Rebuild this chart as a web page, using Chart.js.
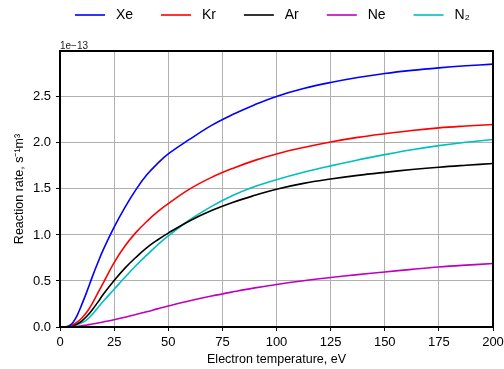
<!DOCTYPE html>
<html>
<head>
<meta charset="utf-8">
<script src="https://cdn.jsdelivr.net/npm/chart.js@4/dist/chart.umd.min.js"></script>
<style>
  html, body { margin: 0; padding: 0; background: #fff; }
  #wrap { width: 504px; height: 369px; }
</style>
</head>
<body>
<div id="wrap"><canvas id="rateChart" width="504" height="369"></canvas></div>
<script>
/* ===== data (rates in units of 1e-13 s^-1 m^3) ===== */
const temperature = [0, 2, 4, 6, 8, 10, 12.5, 15, 17.5, 20, 25, 30, 35, 40, 45, 50, 60, 70, 80, 90, 100, 112.5, 125, 137.5, 150, 162.5, 175, 187.5, 200];

const rateXe = [0, 0, 0.01, 0.05, 0.13, 0.24, 0.39, 0.55, 0.70, 0.84, 1.085, 1.30, 1.49, 1.65, 1.775, 1.88, 2.04, 2.19, 2.31, 2.415, 2.505, 2.59, 2.656, 2.71, 2.754, 2.788, 2.815, 2.837, 2.855];
const rateKr = [0, 0, 0.005, 0.025, 0.055, 0.095, 0.165, 0.26, 0.37, 0.48, 0.70, 0.88, 1.025, 1.145, 1.25, 1.34, 1.50, 1.625, 1.725, 1.81, 1.88, 1.95, 2.01, 2.06, 2.10, 2.135, 2.163, 2.183, 2.20];
const rateAr = [0, 0, 0.003, 0.015, 0.035, 0.065, 0.12, 0.19, 0.27, 0.355, 0.505, 0.64, 0.755, 0.86, 0.945, 1.02, 1.155, 1.265, 1.355, 1.43, 1.497, 1.56, 1.607, 1.647, 1.68, 1.71, 1.736, 1.757, 1.776];
const rateNe = [0, 0, 0, 0.002, 0.006, 0.012, 0.022, 0.032, 0.044, 0.055, 0.078, 0.105, 0.135, 0.165, 0.197, 0.228, 0.285, 0.336, 0.382, 0.425, 0.462, 0.502, 0.537, 0.569, 0.598, 0.626, 0.652, 0.672, 0.689];
const rateN2 = [0, 0, 0.002, 0.01, 0.025, 0.045, 0.08, 0.14, 0.21, 0.28, 0.41, 0.54, 0.665, 0.78, 0.89, 0.99, 1.165, 1.31, 1.43, 1.525, 1.60, 1.68, 1.75, 1.815, 1.872, 1.925, 1.97, 2.007, 2.037];

const gases = ["Xe", "Kr", "Ar", "Ne", "N₂"];
const xTicks = [0, 25, 50, 75, 100, 125, 150, 175, 200];
const yTicks = [0, 0.5, 1.0, 1.5, 2.0, 2.5];
const yExponent = "1e\u221213";

const FONT = "'Liberation Sans', Arial, sans-serif";
const colors = ["#0000ff", "#ff0000", "#000000", "#bf00bf", "#00bfbf"];
const series = [rateXe, rateKr, rateAr, rateNe, rateN2];

const datasets = series.map((vals, i) => ({
  label: " " + gases[i],
  data: temperature.map((t, k) => ({ x: t, y: vals[k] })),
  borderColor: colors[i],
  backgroundColor: colors[i],
  borderWidth: 1.6,
  pointRadius: 0,
  tension: 0.4,
  fill: false
}));

/* frame around the plot + the offset label above the y axis */
const framePlugin = {
  id: "frame",
  afterDatasetsDraw(chart) {
    const { ctx, chartArea: a } = chart;
    ctx.save();
    ctx.strokeStyle = "#000";
    ctx.lineWidth = 2;
    ctx.strokeRect(a.left, a.top, a.right - a.left, a.bottom - a.top);
    ctx.fillStyle = "#222";
    ctx.font = "10px " + FONT;
    ctx.textBaseline = "alphabetic";
    ctx.textAlign = "left";
    ctx.fillText(yExponent, a.left, a.top - 2.5);
    ctx.restore();
  }
};

/* legend sits in the top strip, one row, roughly centred over the plot */
const legendPlace = {
  id: "legendPlace",
  afterLayout(chart) {
    const lg = chart.legend;
    if (!lg) return;
    lg.left = 41;
    lg.right = chart.width;
    lg.top = -20;
  }
};

new Chart(document.getElementById("rateChart"), {
  type: "line",
  data: { datasets },
  plugins: [framePlugin, legendPlace],
  options: {
    responsive: false,
    animation: false,
    layout: { padding: { top: -1, right: 11, bottom: 0, left: 0 } },
    plugins: {
      tooltip: { enabled: false },
      legend: {
        position: "top",
        labels: {
          usePointStyle: true,
          pointStyle: "line",
          pointStyleWidth: 30,
          padding: 28,
          color: "#000",
          font: { family: FONT, size: 14 }
        }
      }
    },
    scales: {
      x: {
        type: "linear",
        min: 0,
        max: 200,
        afterBuildTicks: s => { s.ticks = xTicks.map(v => ({ value: v })); },
        afterFit: s => { s.height = 42; s.paddingLeft = 0; s.paddingRight = 0; },
        ticks: {
          color: "#000",
          padding: 4,
          maxRotation: 0,
          autoSkip: false,
          font: { family: FONT, size: 13 },
          callback: v => String(v)
        },
        grid: { color: "#b0b0b0", lineWidth: 1, tickColor: "#000", tickLength: 4 },
        border: { display: false },
        title: {
          display: true,
          text: "Electron temperature, eV",
          color: "#000",
          font: { family: FONT, size: 12.5 },
          padding: { top: 0, bottom: 2 }
        }
      },
      y: {
        type: "linear",
        min: 0,
        max: 2.998,
        afterBuildTicks: s => { s.ticks = yTicks.map(v => ({ value: v })); },
        afterFit: s => { s.width = 60; },
        ticks: {
          color: "#000",
          padding: 5,
          font: { family: FONT, size: 13 },
          callback: v => Number(v).toFixed(1)
        },
        grid: { color: "#b0b0b0", lineWidth: 1, tickColor: "#000", tickLength: 4 },
        border: { display: false },
        title: {
          display: true,
          text: "Reaction rate, s⁻¹m³",
          color: "#000",
          font: { family: FONT, size: 12.5 },
          padding: { top: 12, bottom: 0 }
        }
      }
    }
  }
});
</script>
</body>
</html>
